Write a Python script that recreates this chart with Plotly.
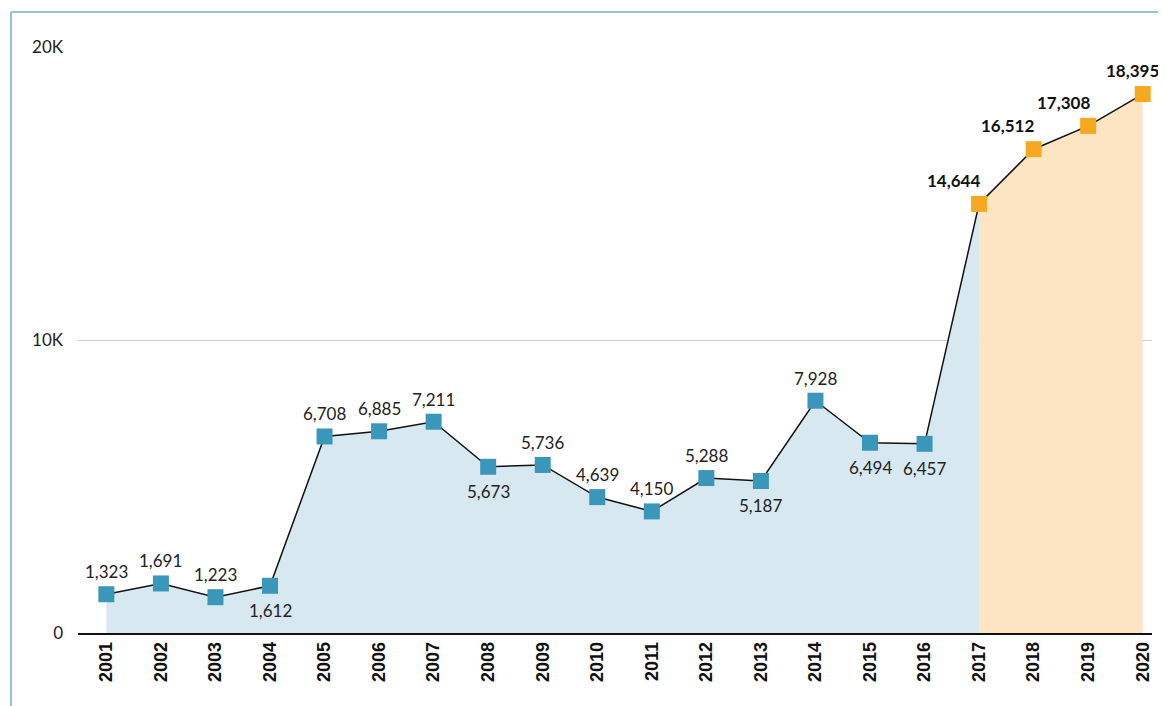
import plotly.graph_objects as go

years = list(range(2001, 2021))
values = [1323, 1691, 1223, 1612, 6708, 6885, 7211, 5673, 5736, 4639,
          4150, 5288, 5187, 7928, 6494, 6457, 14644, 16512, 17308, 18395]
label_pos = ['above', 'above', 'above', 'below', 'above', 'above', 'above', 'below',
             'above', 'above', 'above', 'above', 'below', 'above', 'below', 'below',
             'bold', 'bold', 'bold', 'bold']
split_year = 2017
y_ticks = [0, 10000, 20000]
y_tick_text = ['0', '10K', '20K']

BLUE = '#3a97b9'
ORANGE = '#f6a81e'
FONT = 'Lato'

hist_x = [y for y in years if y <= split_year]
hist_y = values[:len(hist_x)]
fc_x = [y for y in years if y >= split_year]
fc_y = values[len(hist_x) - 1:]

fig = go.Figure()
fig.add_trace(go.Scatter(x=hist_x, y=hist_y, mode='none', fill='tozeroy',
                         fillcolor='#d7e8f1', hoverinfo='skip'))
fig.add_trace(go.Scatter(x=fc_x, y=fc_y, mode='none', fill='tozeroy',
                         fillcolor='#fde4c3', hoverinfo='skip'))
fig.add_trace(go.Scatter(x=years, y=values, mode='lines',
                         line=dict(color='#111111', width=1.5), hoverinfo='skip'))
blue_idx = [i for i, p in enumerate(label_pos) if p != 'bold']
or_idx = [i for i, p in enumerate(label_pos) if p == 'bold']
fig.add_trace(go.Scatter(x=[years[i] for i in blue_idx], y=[values[i] for i in blue_idx],
                         mode='markers', marker=dict(symbol='square', size=16, color=BLUE)))
fig.add_trace(go.Scatter(x=[years[i] for i in or_idx], y=[values[i] for i in or_idx],
                         mode='markers', marker=dict(symbol='square', size=16, color=ORANGE)))

bold_shift = [-26, -26, -25, -10]
k = 0
for i, (yr, v, p) in enumerate(zip(years, values, label_pos)):
    txt = f'{v:,}'
    if p == 'above':
        fig.add_annotation(x=yr, y=v, text=txt, showarrow=False, yanchor='bottom', yshift=10,
                           font=dict(family=FONT, size=17, color='#222222'))
    elif p == 'below':
        fig.add_annotation(x=yr, y=v, text=txt, showarrow=False, yanchor='top', yshift=-12,
                           font=dict(family=FONT, size=17, color='#222222'))
    else:
        fig.add_annotation(x=yr, y=v, text=f'<b>{txt}</b>', showarrow=False, yanchor='bottom',
                           yshift=11, xshift=bold_shift[k],
                           font=dict(family=FONT, size=17, color='#111111'))
        k += 1

# page body has an 8px margin: figure is drawn 8px smaller and offsets compensate
W, H = 1158, 698
ml, mr, mt, mb = 70, 14, 39, 73
pw, ph = W - ml - mr, H - mt - mb
px = lambda x: (x - ml) / pw
py = lambda y: (H - mb - y) / ph
fig.add_shape(type='line', xref='paper', yref='paper', x0=px(3), x1=px(3), y0=py(4), y1=py(H + 5),
              line=dict(color='#8ec6d8', width=2))
fig.add_shape(type='line', xref='paper', yref='paper', x0=px(3), x1=px(W + 5), y0=py(4), y1=py(4),
              line=dict(color='#8ec6d8', width=2))

fig.update_layout(
    width=W, height=H,
    margin=dict(l=ml, r=mr, t=mt, b=mb),
    plot_bgcolor='white', paper_bgcolor='white',
    showlegend=False,
    font=dict(family=FONT, color='#222222'),
    xaxis=dict(range=[2000.48, 2020.17], tickmode='array', tickvals=years,
               ticktext=[str(y) for y in years], tickangle=-90,
               tickfont=dict(family='Liberation Sans', size=18, color='#111111', weight='bold'),
               showgrid=False, zeroline=False, showline=True, linecolor='#111111', linewidth=1.5,
               ticks=''),
    yaxis=dict(range=[0, 20000], tickmode='array', tickvals=y_ticks, ticktext=y_tick_text,
               tickfont=dict(family=FONT, size=17, color='#222222'),
               showgrid=True, gridcolor='#d0d0d0', gridwidth=1, zeroline=False,
               ticklabelstandoff=14, ticks=''),
)
fig.write_html('out.html')
